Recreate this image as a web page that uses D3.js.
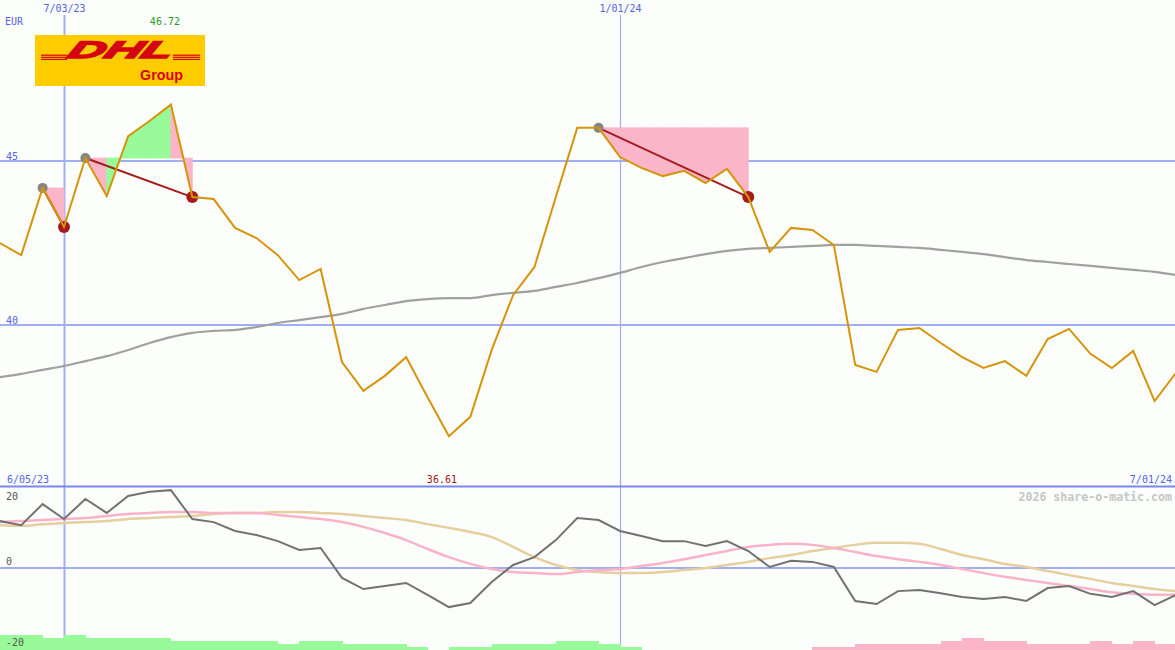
<!DOCTYPE html>
<html><head><meta charset="utf-8">
<script src="https://cdn.jsdelivr.net/npm/d3@7"></script>
<style>html,body{margin:0;padding:0;background:#fbfefb;}svg{display:block;}</style>
</head><body>
<svg id="chart" width="1175" height="650"></svg>
<script>
// ---------- data ----------
const startDate = Date.UTC(2023, 5, 12);          // first weekly point
const price = [42.50,42.13,44.18,42.99,45.09,43.93,45.76,46.22,46.72,43.90,43.84,42.96,42.65,42.13,41.37,41.71,38.87,37.99,38.45,39.02,37.80,36.61,37.20,39.24,40.91,41.77,43.90,46.01,46.01,45.12,44.79,44.54,44.70,44.33,44.76,43.90,42.23,42.96,42.90,42.44,38.78,38.57,39.85,39.91,39.45,39.02,38.69,38.90,38.45,39.57,39.88,39.12,38.69,39.21,37.68,38.54];
const movingAvg = [38.41,38.51,38.63,38.75,38.90,39.05,39.24,39.45,39.63,39.76,39.82,39.85,39.94,40.06,40.15,40.24,40.34,40.49,40.61,40.73,40.79,40.82,40.82,40.91,40.98,41.04,41.16,41.28,41.43,41.59,41.77,41.92,42.04,42.16,42.26,42.32,42.35,42.38,42.41,42.44,42.44,42.41,42.38,42.35,42.29,42.23,42.16,42.07,41.98,41.92,41.86,41.80,41.74,41.68,41.62,41.52];
const momentum = [13.8,12.6,18.8,14.4,20.3,16.2,21.2,22.4,22.9,14.4,13.5,10.9,9.7,7.9,5.3,5.9,-2.9,-6.2,-5.3,-4.4,-7.9,-11.5,-10.3,-4.1,0.9,3.2,8.2,14.7,14.1,10.9,9.4,7.9,7.9,6.5,7.9,5.0,0.3,2.1,1.8,0.3,-9.7,-10.6,-6.8,-6.5,-7.4,-8.5,-9.1,-8.5,-9.7,-5.9,-5.3,-7.6,-8.5,-6.8,-10.9,-7.9];
const signalFast = [13.5,13.8,14.1,14.4,14.7,15.3,15.9,16.2,16.5,16.5,16.2,16.2,16.2,15.6,15.0,14.4,13.5,12.1,10.3,8.2,5.6,3.2,1.2,-0.3,-1.2,-1.5,-1.8,-1.2,-0.6,-0.3,0.6,1.5,2.6,3.8,5.0,6.2,6.8,7.1,6.8,5.9,4.7,3.5,2.6,1.8,0.9,-0.3,-1.5,-2.6,-3.5,-4.4,-5.3,-6.2,-7.1,-7.6,-7.9,-7.9];
const signalSlow = [12.6,12.4,12.9,13.2,13.5,13.8,14.4,14.7,15.0,15.3,15.9,16.2,16.2,16.5,16.5,16.2,15.9,15.3,14.7,14.1,12.9,11.8,10.6,9.1,6.2,3.2,0.9,-0.6,-1.2,-1.5,-1.5,-1.2,-0.6,0.0,0.9,1.8,2.9,3.8,5.0,5.9,6.8,7.4,7.4,7.1,5.6,3.8,2.6,1.2,0.3,-0.9,-2.1,-3.2,-4.4,-5.3,-6.2,-6.8];
const histo = [5,5,4,5,4,4,4,4,3,3,3,3,3,2,3,3,2,2,2,1,0,1,1,2,2,2,3,3,2,1,0,0,0,0,0,0,0,0,-1,-1,-2,-2,-2,-2,-3,-4,-3,-3,-2,-2,-2,-3,-2,-3,-2,0];
const swingFrom = [2, 4, 28];     // swing high indices
const swingTo   = [3, 9, 35];     // following swing low indices
const xTickDates  = [Date.UTC(2023,6,3), Date.UTC(2024,0,1)];
const xTickLabels = ["7/03/23", "1/01/24"];
const priceTicks = [45, 40];
const lowerTicks = [20, 0, -20];
const rangeStartLabel = "6/05/23", rangeEndLabel = "7/01/24";
const highLabel = "46.72", lowLabel = "36.61";
const currency = "EUR";
const credit = "2026 share-o-matic.com";

// ---------- setup ----------
const W = 1175, H = 650;
const svg = d3.select("#chart");
const dates = price.map((_, i) => d3.utcDay.offset(new Date(startDate), 7 * i));
const x = d3.scaleUtc().domain(xTickDates).range([64, 620]);
const y = d3.scaleLinear().domain([40, 45]).range([325, 161]);
const y2 = d3.scaleLinear().domain([0, 20]).range([568, 500]);
const hScale = d3.scaleLinear().domain([0, 5]).range([0, 15]);

const grid = "#a3adf2", blueTxt = "#5563e6";
const mono = "'DejaVu Sans Mono', monospace";

svg.append("rect").attr("width", W).attr("height", H).attr("fill", "#fbfefb");

// gridlines
svg.selectAll(".hg").data(priceTicks).join("line")
  .attr("x1", 0).attr("x2", W).attr("y1", d => y(d)).attr("y2", d => y(d))
  .attr("stroke", grid).attr("stroke-width", 2);
svg.append("line").attr("x1", 0).attr("x2", W).attr("y1", y2(0)).attr("y2", y2(0))
  .attr("stroke", grid).attr("stroke-width", 2);
svg.selectAll(".vg").data(xTickDates).join("line")
  .attr("x1", d => x(d) + 0.5).attr("x2", d => x(d) + 0.5).attr("y1", 15).attr("y2", H)
  .attr("stroke", grid).attr("stroke-width", (d, i) => i === 0 ? 2 : 1.2);

// panel separator
svg.append("line").attr("x1", 0).attr("x2", W).attr("y1", 486.5).attr("y2", 486.5)
  .attr("stroke", "#7b87ec").attr("stroke-width", 2);

// ---------- upper panel ----------
const upper = svg.append("g");

// swing fills
swingFrom.forEach((f, s) => {
  const t = swingTo[s], level = price[f];
  for (let i = f; i < t; i++) {
    const pts = [[x(dates[i]), y(level)], [x(dates[i]), y(price[i])],
                 [x(dates[i+1]), y(price[i+1])], [x(dates[i+1]), y(level)]];
    const col = price[i+1] > level ? "#98fa98" : "#fab5c9";
    upper.append("path").attr("d", "M" + pts.join("L") + "Z")
      .attr("fill", col).attr("stroke", col).attr("stroke-width", 0.8);
  }
});

// moving average
upper.append("path").datum(movingAvg)
  .attr("d", d3.line().x((d, i) => x(dates[i])).y(d => y(d)).curve(d3.curveMonotoneX))
  .attr("fill", "none").attr("stroke", "#a0a0a0").attr("stroke-width", 2.2);

// swing lines
swingFrom.forEach((f, s) => {
  const t = swingTo[s];
  upper.append("line").attr("x1", x(dates[f])).attr("y1", y(price[f]))
    .attr("x2", x(dates[t])).attr("y2", y(price[t]))
    .attr("stroke", "#a41c1c").attr("stroke-width", 2);
});
upper.selectAll(".hi").data(swingFrom).join("circle")
  .attr("cx", d => x(dates[d])).attr("cy", d => y(price[d])).attr("r", 5).attr("fill", "#858585");
upper.selectAll(".lo").data(swingTo).join("circle")
  .attr("cx", d => x(dates[d])).attr("cy", d => y(price[d])).attr("r", 6).attr("fill", "#a51a1a");

// price line
upper.append("path").datum(price)
  .attr("d", d3.line().x((d, i) => x(dates[i])).y(d => y(d)))
  .attr("fill", "none").attr("stroke", "#d6940a").attr("stroke-width", 2).attr("stroke-linejoin", "miter");

// ---------- lower panel ----------
const lower = svg.append("g");
const l2 = d3.line().x((d, i) => x(dates[i])).y(d => y2(d));
lower.append("path").attr("d", l2.curve(d3.curveMonotoneX)(signalSlow))
  .attr("fill", "none").attr("stroke", "#e6cf9f").attr("stroke-width", 2.5);
lower.append("path").attr("d", l2.curve(d3.curveMonotoneX)(signalFast))
  .attr("fill", "none").attr("stroke", "#f8b3c8").attr("stroke-width", 2.5);
lower.append("path").attr("d", l2.curve(d3.curveLinear)(momentum))
  .attr("fill", "none").attr("stroke", "#727272").attr("stroke-width", 2);

// histogram bars
lower.selectAll(".bar").data(histo.slice(0, histo.length - 1)).join("rect")
  .attr("x", (d, i) => x(dates[i]))
  .attr("width", (d, i) => x(dates[i+1]) - x(dates[i]) + 0.5)
  .attr("y", d => H - hScale(Math.abs(d)))
  .attr("height", d => hScale(Math.abs(d)))
  .attr("fill", d => d >= 0 ? "#98fa98" : "#fab5c9")
  .attr("shape-rendering", "crispEdges");

// ---------- text ----------
const txt = (s, px, py, col, anchor, size, weight) => svg.append("text").text(s)
  .attr("x", px).attr("y", py).attr("fill", col).attr("text-anchor", anchor || "start")
  .attr("font-family", mono).attr("font-size", size || 10).attr("font-weight", weight || "normal");

xTickDates.forEach((d, i) => txt(xTickLabels[i], x(d) + 0.5, 12, blueTxt, "middle"));
txt(currency, 5, 25, blueTxt);
priceTicks.forEach(v => txt(String(v), 6, y(v) - 1, blueTxt));
txt(highLabel, x(dates[price.indexOf(d3.max(price))]) - 6, 25, "#2a9a2a", "middle");
txt(rangeStartLabel, 7, 483, blueTxt);
txt(rangeEndLabel, 1172, 483, blueTxt, "end");
txt(lowLabel, x(dates[price.indexOf(d3.min(price))]) - 7, 483, "#a01818", "middle");
lowerTicks.forEach((v, i) => txt(String(v), 6, [500, 565, 646][i], "#555555"));
txt(credit, 1172, 501, "#c6c6c6", "end", 11.6, "bold");

// ---------- logo ----------
const logo = svg.append("g");
logo.append("rect").attr("x", 35).attr("y", 35).attr("width", 170).attr("height", 51).attr("fill", "#ffcc00");
[0, 1, 2].forEach(k => {
  logo.append("rect").attr("x", 41).attr("y", 54.6 + k * 2.1).attr("width", 26).attr("height", 1.2).attr("fill", "#d40511");
  logo.append("rect").attr("x", 173).attr("y", 54.6 + k * 2.1).attr("width", 27).attr("height", 1.2).attr("fill", "#d40511");
});
logo.append("text").text("DHL")
  .attr("transform", "translate(66,57.5) skewX(-24)")
  .attr("font-family", "'Liberation Sans', Arial, sans-serif").attr("font-weight", "900")
  .attr("font-style", "italic").attr("font-size", 24)
  .attr("stroke", "#d40511").attr("stroke-width", 1.6).attr("stroke-linejoin", "miter")
  .attr("textLength", 104).attr("lengthAdjust", "spacingAndGlyphs").attr("fill", "#d40511");
logo.append("text").text("Group").attr("x", 140).attr("y", 79.5)
  .attr("font-family", "'Liberation Sans', Arial, sans-serif").attr("font-weight", "bold")
  .attr("font-size", 14.5).attr("textLength", 43).attr("lengthAdjust", "spacingAndGlyphs").attr("fill", "#d40511");
</script>
</body></html>
